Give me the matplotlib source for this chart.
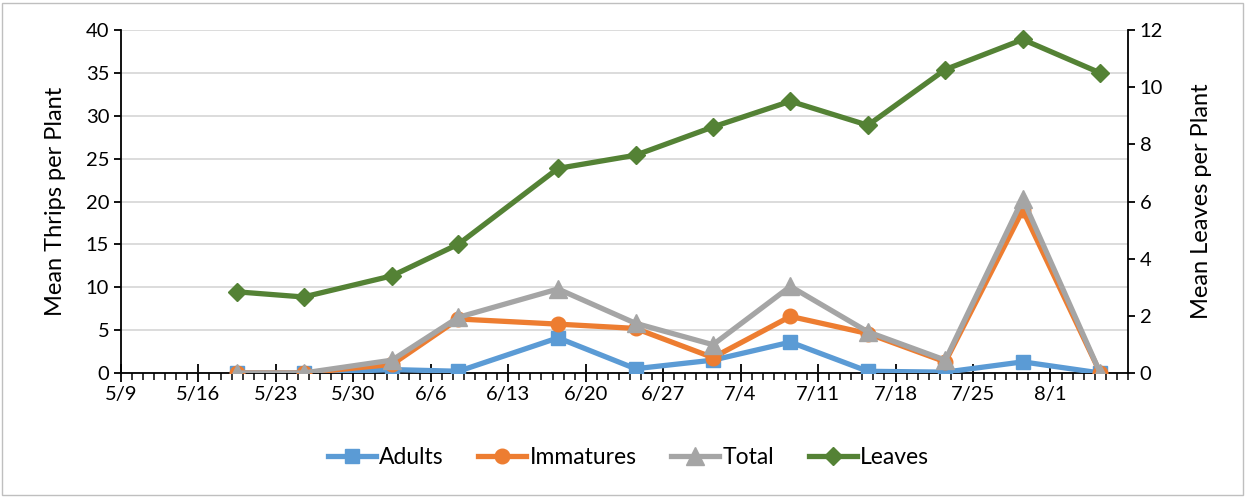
import datetime as dt
import matplotlib.pyplot as plt
import matplotlib.dates as mdates
from matplotlib.patches import Rectangle

plt.rcParams['font.family'] = ['Lato', 'DejaVu Sans']

sample_dates = ["2019-05-19", "2019-05-25", "2019-06-02", "2019-06-08", "2019-06-17", "2019-06-24",
                "2019-07-01", "2019-07-08", "2019-07-15", "2019-07-22", "2019-07-29", "2019-08-05"]
adults = [0, 0, 0.4, 0.2, 4.1, 0.5, 1.5, 3.6, 0.2, 0.1, 1.3, 0]
immatures = [0, 0, 1.0, 6.3, 5.7, 5.2, 1.8, 6.6, 4.6, 1.3, 19.0, 0]
total = [0, 0, 1.5, 6.5, 9.8, 5.8, 3.3, 10.1, 4.8, 1.5, 20.3, 0]
leaves = [2.84, 2.66, 3.40, 4.51, 7.16, 7.62, 8.61, 9.51, 8.67, 10.62, 11.67, 10.5]

# points sit in the middle of each day
x = [dt.datetime.strptime(d, "%Y-%m-%d") + dt.timedelta(hours=12) for d in sample_dates]

fig = plt.figure(figsize=(12.47, 4.97), dpi=100)
ax = fig.add_axes([0.097, 0.2495, 0.8075, 0.69])
ax2 = ax.twinx()

ax.plot(x, adults, color="#5B9BD5", lw=3.8, marker="s", ms=10, label="Adults", zorder=3)
ax.plot(x, immatures, color="#ED7D31", lw=3.8, marker="o", ms=10.5, label="Immatures", zorder=4)
ax.plot(x, total, color="#A5A5A5", lw=3.8, marker="^", ms=13, label="Total", zorder=5)
ax2.plot(x, leaves, color="#548235", lw=3.8, marker="D", ms=9, label="Leaves")

ax.set_ylim(0, 40)
ax.set_yticks(range(0, 41, 5))
ax2.set_ylim(0, 12)
ax2.set_yticks(range(0, 13, 2))
ax.set_xlim(dt.datetime(2019, 5, 9), dt.datetime(2019, 8, 8))
ticks = [dt.datetime(2019, 5, 9) + dt.timedelta(days=7 * i) for i in range(13)]
ax.set_xticks(ticks)
ax.set_xticklabels([f"{t.month}/{t.day}" for t in ticks])
ax.xaxis.set_minor_locator(mdates.DayLocator())

ax.grid(axis="y", color="#D9D9D9", lw=1.3)
ax.set_axisbelow(True)
for a in (ax, ax2):
    a.spines["top"].set_visible(False)
    for s in a.spines.values():
        s.set_linewidth(1.3)
ax.spines["right"].set_visible(False)
ax2.spines["left"].set_visible(False)
ax2.spines["bottom"].set_visible(False)

ax.tick_params(axis="x", which="major", direction="inout", length=13, width=1.3, labelsize=14.5, pad=3)
ax.tick_params(axis="x", which="minor", direction="out", length=5, width=1.1)
ax.tick_params(axis="y", direction="out", length=5, width=1.3, labelsize=14.5)
ax2.tick_params(axis="y", direction="out", length=5, width=1.3, labelsize=14.5)

ax.set_ylabel("Mean Thrips per Plant", fontsize=17, labelpad=14)
ax2.set_ylabel("Mean Leaves per Plant", fontsize=17, labelpad=20)

h1, l1 = ax.get_legend_handles_labels()
h2, l2 = ax2.get_legend_handles_labels()
fig.legend(h1 + h2, l1 + l2, loc="center", bbox_to_anchor=(0.504, 0.08), ncol=4, frameon=False,
           fontsize=16.5, handlelength=2.1, columnspacing=1.5, handletextpad=0.15)

fig.patches.append(Rectangle((0.002, 0.004), 0.995, 0.99, transform=fig.transFigure,
                             fill=False, edgecolor="#BFBFBF", lw=1))

fig.savefig("out.png", dpi=100)
